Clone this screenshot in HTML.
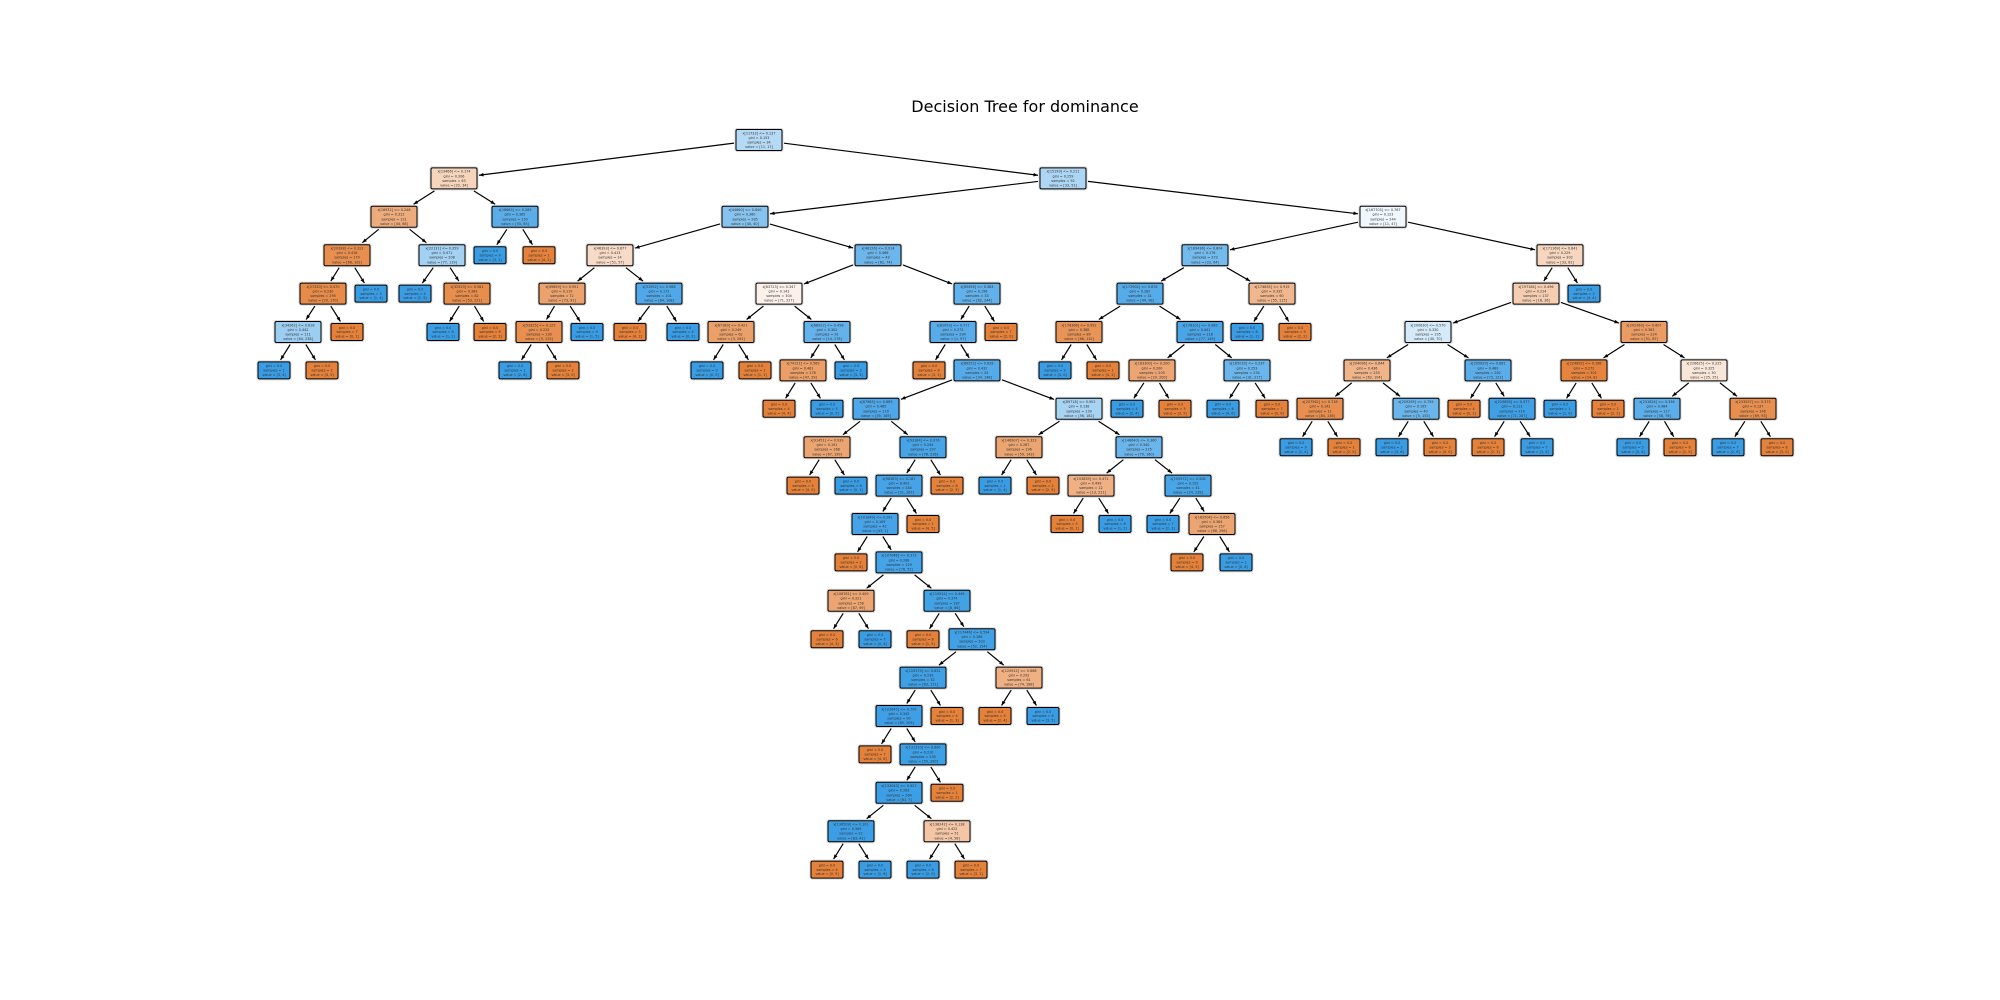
<!DOCTYPE html>
<html><head><meta charset="utf-8"><style>
html,body{margin:0;padding:0;background:#fff;}
#wrap{position:relative;width:2000px;height:1000px;overflow:hidden;background:#fff;}
#title{position:absolute;left:0;width:2050px;top:97px;text-align:center;font-family:"DejaVu Sans","Liberation Sans",sans-serif;font-size:16px;color:#000;}
svg{position:absolute;left:0;top:0;}
</style></head><body>
<div id="wrap">
<div id="title">Decision Tree for dominance</div>
<svg id="s" width="2000" height="1000" xmlns="http://www.w3.org/2000/svg"></svg>
</div>
<script>
var O='#e58139',B='#399de5';
var N=[
[0,-1,759,0,'#b5daf5'],[1,0,454,1,'#f6d5bc'],[2,0,1063,1,'#acd6f4'],
[3,1,394,2,'#eeab7b'],[4,1,515,2,'#5aade9'],[5,3,347,3,'#e88f4f'],[6,3,442,3,'#a3d1f3'],
[7,4,490,3,'B'],[8,4,539,3,'O'],[9,5,323,4,'#e78b48'],[10,5,371,4,'B'],[11,6,415,4,'B'],
[12,6,467,4,'#e88e4d'],[13,9,298,5,'#9ccef2'],[14,9,347,5,'O'],[15,12,443,5,'B'],[16,12,490,5,'O'],
[17,13,274,6,'B'],[18,13,322,6,'O'],
[19,2,745,2,'#86c3ef'],[20,19,610,3,'#f8dbc7'],[21,19,878,3,'#6cb6ec'],
[22,20,562,4,'#eca26d'],[23,20,659,4,'#50a8e8'],[24,22,539,5,'#e88f4f'],[25,22,587,5,'B'],
[26,24,515,6,'B'],[27,24,563,6,'O'],[28,23,630,5,'O'],[29,23,683,5,'B'],
[30,21,779,4,'#fcf1ea'],[31,21,977,4,'#62b1ea'],[32,30,731,5,'#eba06a'],[33,30,827,5,'#64b2eb'],
[34,32,707,6,'B'],[35,32,755,6,'O'],[36,33,803,6,'#eb9e66'],[37,33,851,6,'B'],
[38,36,779,7,'O'],[39,36,827,7,'B'],[40,31,953,5,'#57ace9'],[41,31,1001,5,'O'],
[42,40,929,6,'O'],[43,40,977,6,'#55abe9'],[44,43,876,7,'#4ea7e8'],[45,43,1079,7,'#a8d4f4'],
[46,44,827,8,'#eca571'],[47,44,923,8,'#47a4e7'],[48,46,803,9,'O'],[49,46,851,9,'B'],
[50,47,899,9,'#46a3e7'],[51,47,947,9,'O'],[52,50,875,10,'#46a3e7'],[53,50,923,10,'O'],
[54,52,851,11,'O'],[55,52,899,11,'#45a3e7'],[56,55,851,12,'#eca571'],[57,55,947,12,'#42a2e6'],
[58,56,827,13,'O'],[59,56,875,13,'B'],[60,57,923,13,'O'],[61,57,972,13,'#41a1e6'],
[62,61,923,14,'#3fa0e6'],[63,61,1019,14,'#efb083'],[64,62,899,15,'#3e9fe6'],[65,62,947,15,'O'],
[66,63,995,15,'O'],[67,63,1043,15,'B'],[68,64,875,16,'O'],[69,64,923,16,'#3d9fe5'],
[70,69,899,17,'#3c9fe5'],[71,69,947,17,'O'],[72,70,851,18,'#3c9fe5'],[73,70,947,18,'#f4c6a5'],
[74,72,827,19,'O'],[75,72,875,19,'B'],[76,73,923,19,'B'],[77,73,971,19,'O'],
[78,45,1019,8,'#eca571'],[79,45,1139,8,'#6ab5eb'],[80,78,995,9,'B'],[81,78,1043,9,'O'],
[82,79,1091,9,'#efb083'],[83,79,1188,9,'#48a5e7'],[84,82,1067,10,'O'],[85,82,1115,10,'B'],
[86,83,1163,10,'B'],[87,83,1212,10,'#eca571'],[88,87,1187,11,'O'],[89,87,1236,11,'B'],
[90,2,1383,2,'#f0f7fd'],[91,90,1205,3,'#73baed'],[92,90,1560,3,'#f6d6be'],
[93,91,1140,4,'#56abe9'],[94,91,1272,4,'#f0b78e'],[95,93,1079,5,'#e99457'],[96,93,1200,5,'#4aa5e7'],
[97,95,1055,6,'B'],[98,95,1103,6,'O'],[99,96,1152,6,'#eca572'],[100,96,1247,6,'#6ab5eb'],
[101,99,1127,7,'B'],[102,99,1175,7,'O'],[103,100,1223,7,'B'],[104,100,1272,7,'O'],
[105,94,1247,5,'B'],[106,94,1295,5,'O'],
[107,92,1536,4,'#f5cdb0'],[108,92,1584,4,'B'],[109,107,1428,5,'#d5eaf9'],[110,107,1644,5,'#eb9c63'],
[111,109,1367,6,'#f0b489'],[112,109,1488,6,'#5aade9'],[113,111,1320,7,'#e88f4f'],[114,111,1416,7,'#6ab5eb'],
[115,113,1296,8,'B'],[116,113,1344,8,'O'],[117,114,1392,8,'B'],[118,114,1440,8,'O'],
[119,112,1464,7,'O'],[120,112,1512,7,'#40a0e6'],[121,120,1488,8,'O'],[122,120,1537,8,'B'],
[123,110,1584,6,'#e6843e'],[124,110,1704,6,'#f8e6d9'],[125,123,1560,7,'B'],[126,123,1608,7,'O'],
[127,124,1657,7,'#5caeea'],[128,124,1753,7,'#e88f4f'],[129,127,1633,8,'B'],[130,127,1680,8,'O'],
[131,128,1728,8,'B'],[132,128,1777,8,'O']
];
var S=document.getElementById('s'),ns='http://www.w3.org/2000/svg';
var M={};
N.forEach(function(n){
  var leaf=(n[4]=='O'||n[4]=='B');
  var w=leaf?32:46,h=leaf?17:21;
  M[n[0]]={x:n[2],y:140+38.4*n[3],w:w,h:h,leaf:leaf,fill:leaf?(n[4]=='O'?O:B):n[4],p:n[1],id:n[0]};
});
function el(t,a){var e=document.createElementNS(ns,t);for(var k in a)e.setAttribute(k,a[k]);return e;}
var gE=el('g',{}),gN=el('g',{});S.appendChild(gE);S.appendChild(gN);
function clip(cx,cy,dx,dy,hw,hh){var tx=dx?hw/Math.abs(dx):1e9,ty=dy?hh/Math.abs(dy):1e9;return Math.min(tx,ty);}
for(var k in M){var c=M[k];if(c.p<0)continue;var p=M[c.p];
  var dx=c.x-p.x,dy=c.y-p.y;
  var t0=clip(p.x,p.y,dx,dy,p.w/2+2,p.h/2+2),t1=1-clip(c.x,c.y,dx,dy,c.w/2+2,c.h/2+2);
  var x0=p.x+dx*t0,y0=p.y+dy*t0,x1=p.x+dx*t1,y1=p.y+dy*t1;
  gE.appendChild(el('line',{x1:x0,y1:y0,x2:x1,y2:y1,stroke:'#000','stroke-width':1.2}));
  var L=Math.sqrt(dx*dx+dy*dy),ux=dx/L,uy=dy/L,hl=4.5,hw=1.8;
  var bx=x1-ux*hl,by=y1-uy*hl;
  gE.appendChild(el('polygon',{points:x1+','+y1+' '+(bx-uy*hw)+','+(by+ux*hw)+' '+(bx+uy*hw)+','+(by-ux*hw),fill:'#000'}));
}
var cnt=0;
for(var k in M){var n=M[k];cnt++;
  gN.appendChild(el('rect',{x:n.x-n.w/2-1,y:n.y-n.h/2-1,width:n.w+2,height:n.h+2,rx:2,fill:'none',stroke:'#d8d8d8','stroke-width':1}));
  gN.appendChild(el('rect',{x:n.x-n.w/2,y:n.y-n.h/2,width:n.w,height:n.h,rx:1.5,fill:n.fill,stroke:'#000','stroke-width':1}));
  var lines=n.leaf?['gini = 0.0','samples = '+(cnt%9+1),'value = ['+(cnt%5)+', '+(cnt%7)+']']:
    ['x['+(10000+cnt*1733%290000)+'] <= 0.'+(cnt*37%900+100),'gini = 0.'+(cnt*53%400+100),'samples = '+(cnt*29%300+5),'value = ['+(cnt*11%90)+', '+(cnt*17%300)+']'];
  var sp=n.leaf?4.4:4.6,y0=n.y-(lines.length-1)*sp/2+1.2;
  lines.forEach(function(s,i){var t=el('text',{x:n.x,y:y0+i*sp,'text-anchor':'middle','font-size':3.4,'font-family':'DejaVu Sans, Liberation Sans, sans-serif',fill:'#333'});t.textContent=s;gN.appendChild(t);});
}
</script>
</body></html>
